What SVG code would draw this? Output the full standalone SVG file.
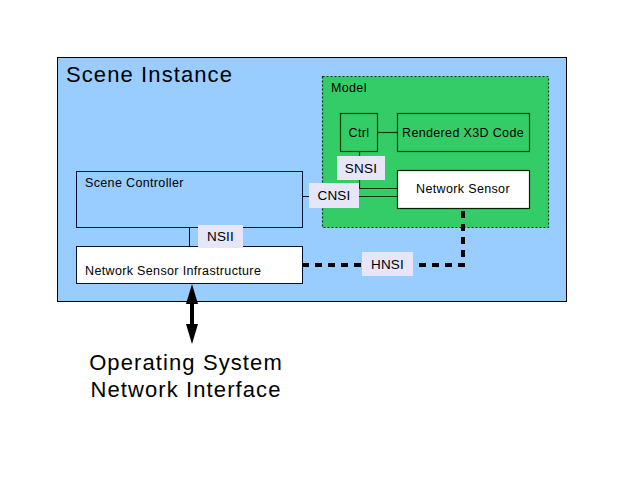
<svg xmlns="http://www.w3.org/2000/svg" width="644" height="481" viewBox="0 0 644 481">
<defs>
<style>
text{font-family:"Liberation Sans",Arial,sans-serif;fill:#000}
.s{font-size:12.5px;letter-spacing:0.35px}
.l{font-size:13.5px;letter-spacing:0.2px}
.big{font-size:22px;letter-spacing:1.1px}
.lbl{fill:#e6e6f8;stroke:none}
.ln{stroke:#000;stroke-width:1;fill:none}
.gln{stroke:#003300;stroke-width:1.2;fill:none}
</style>
</defs>
<rect width="644" height="481" fill="#fff"/>
<g id="scene-instance">
<rect x="57.5" y="57.5" width="509" height="244" fill="#99ccff" stroke="#000" stroke-width="1"/>
<text x="66" y="82" class="big">Scene Instance</text>
</g>
<g id="model">
<rect x="322.5" y="76.5" width="226" height="151" fill="#33cc66" stroke="#003300" stroke-width="1.2" stroke-dasharray="2,2"/>
<text x="331" y="92" class="s">Model</text>
</g>
<g id="ctrl">
<rect x="340.5" y="113.5" width="37" height="38" fill="#33cc66" stroke="#004400" stroke-width="1.2"/>
<text x="359" y="137" class="s" text-anchor="middle">Ctrl</text>
</g>
<g id="rendered">
<rect x="397.5" y="113.5" width="132" height="38" fill="#33cc66" stroke="#004400" stroke-width="1.2"/>
<text x="463" y="137" class="s" text-anchor="middle">Rendered X3D Code</text>
</g>
<g id="network-sensor">
<rect x="397.5" y="170.5" width="132" height="38" fill="#fff" stroke="#002200" stroke-width="1.2"/>
<text x="463" y="193" class="s" text-anchor="middle">Network Sensor</text>
</g>
<g id="scene-controller">
<rect x="76.5" y="171.5" width="226" height="56" fill="#99ccff" stroke="#001133" stroke-width="1"/>
<text x="85" y="187" class="s">Scene Controller</text>
</g>
<g id="nsi">
<rect x="76.5" y="246.5" width="226" height="37" fill="#fff" stroke="#001133" stroke-width="1"/>
<text x="85" y="275" class="s">Network Sensor Infrastructure</text>
</g>
<g id="connectors">
<path class="gln" d="M377.5,132.5 H397.5"/>
<path class="gln" d="M359.5,151.5 V188.5 H397.5"/>
<path class="gln" d="M359,196.5 H397.5"/>
<path class="ln" d="M302.5,196.5 H309"/>
<path class="ln" d="M189.5,227.5 V246.5"/>
<path d="M302,265 H463 V208" fill="none" stroke="#000" stroke-width="4" stroke-dasharray="7,6"/>
<path d="M192,304 V325" stroke="#000" stroke-width="4" fill="none"/>
<path d="M192,284 L186,304 L198,304 Z" fill="#000"/>
<path d="M192,344 L186,324 L198,324 Z" fill="#000"/>
</g>
<g id="label-snsi">
<rect class="lbl" x="337" y="156" width="48" height="24"/>
<text x="361" y="173" class="l" text-anchor="middle">SNSI</text>
</g>
<g id="label-cnsi">
<rect class="lbl" x="309" y="183" width="50" height="25"/>
<text x="334" y="200" class="l" text-anchor="middle">CNSI</text>
</g>
<g id="label-nsii">
<rect class="lbl" x="198" y="225" width="45" height="23"/>
<text x="220.5" y="241" class="l" text-anchor="middle">NSII</text>
</g>
<g id="label-hnsi">
<rect class="lbl" x="362" y="252" width="51" height="24"/>
<text x="387.5" y="269" class="l" text-anchor="middle">HNSI</text>
</g>
<g id="os-label">
<text x="186" y="370" class="big" text-anchor="middle">Operating System</text>
<text x="186" y="397" class="big" text-anchor="middle">Network Interface</text>
</g>
</svg>
